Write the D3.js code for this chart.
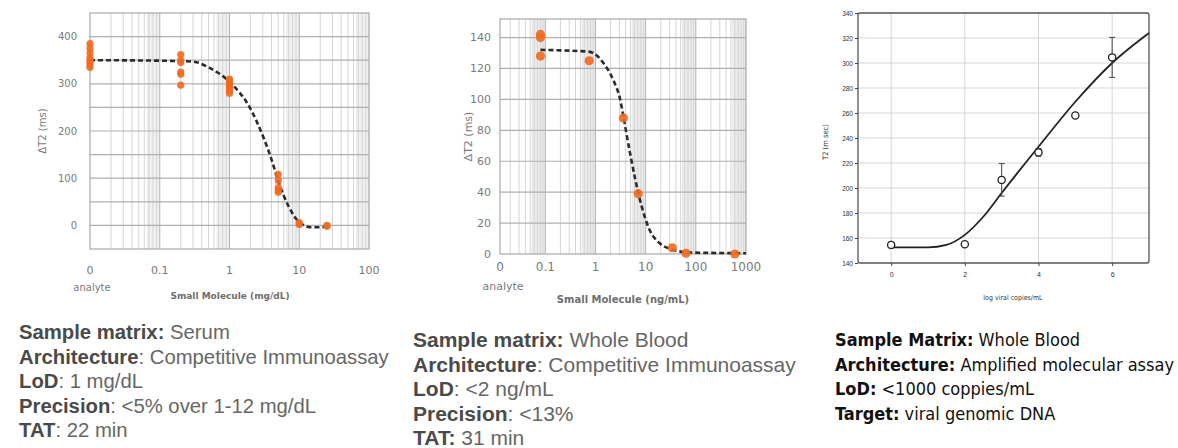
<!DOCTYPE html>
<html lang="en">
<head>
    <meta charset="UTF-8">
    <title>T2 assay curves</title>
    <script src="https://d3js.org/d3.v7.min.js"></script>
    <style>
        body { margin: 0; background: #fff; }
    </style>
</head>
<body>
    <div id="chart"></div>
    <script>
        // panel 1: small molecule in serum (mg/dL), 0 = analyte-free
        const serumConc = [0, 0.2, 1, 5, 10, 25];
        const serumValues = [
            [385, 375, 365, 355, 350, 345, 340, 335],
            [362, 350, 345, 325, 320, 297],
            [310, 305, 300, 295, 290, 285, 280],
            [108, 95, 80, 75, 70],
            [6, 2],
            [0, -2]
        ];
        const serumFitX = [0.01, 0.1, 0.3, 0.5, 1, 2, 3, 4, 5, 7, 10, 15, 20, 25];
        const serumFitY = [350, 349, 347, 335, 304, 247, 190, 140, 94, 41, 7, -4, -4, -2];
        const serumYTicks = [0, 100, 200, 300, 400];
        const serumXTicks = ["0", "0.1", "1", "10", "100"];

        // panel 2: small molecule in whole blood (ng/mL)
        const bloodConc = [0.08, 0.75, 3.6, 7.1, 34, 64, 600];
        const bloodValues = [[142, 140, 128], [125], [88], [39], [4], [0.5], [0]];
        const bloodFitX = [0.08, 0.67, 0.9, 1.4, 2.3, 3.1, 3.6, 4.9, 7.7, 12, 19, 33, 76, 1000];
        const bloodFitY = [132, 131, 130, 124, 112, 100, 89, 65, 35, 15.5, 7, 3, 1, 0.5];
        const bloodYTicks = [0, 20, 40, 60, 80, 100, 120, 140];
        const bloodXTicks = ["0", "0.1", "1", "10", "100", "1000"];

        // panel 3: viral DNA, T2 vs log copies
        const viralLog = [0, 2, 3, 4, 5, 6];
        const viralT2 = [154.5, 155, 206.5, 228.5, 258, 304.5];
        const viralErr = [0, 0, 13, 3, 0, 16];
        const viralFitX = [0, 1, 1.5, 2, 2.5, 3, 4, 5, 6, 7];
        const viralFitY = [152.5, 152.5, 154.5, 162.5, 177, 196, 233, 269, 300, 324];
        const viralYTicks = [140, 160, 180, 200, 220, 240, 260, 280, 300, 320, 340];
        const viralXTicks = [0, 2, 4, 6];

        // captions
        const caption1 = [
            ["Sample matrix:", " Serum"],
            ["Architecture", ": Competitive Immunoassay"],
            ["LoD", ": 1 mg/dL"],
            ["Precision", ": <5% over 1-12 mg/dL"],
            ["TAT", ": 22 min"]
        ];
        const caption2 = [
            ["Sample matrix:", " Whole Blood"],
            ["Architecture", ": Competitive Immunoassay"],
            ["LoD", ": <2 ng/mL"],
            ["Precision", ": <13%"],
            ["TAT:", " 31 min"]
        ];
        const caption3 = [
            ["Sample Matrix:", " Whole Blood"],
            ["Architecture:", " Amplified molecular assay"],
            ["LoD:", " <1000 coppies/mL"],
            ["Target:", " viral genomic DNA"]
        ];

        const orange = "#ef6a1f";

        const svg = d3.select("#chart")
            .append("svg")
                .attr("width", 1178)
                .attr("height", 448)
                .style("font-family", "'DejaVu Sans', sans-serif");

        // log-scale competitive assay panel (1 and 2 share the style)
        function logPanel(o) {
            const g = svg.append("g");
            const x = d3.scaleLog().domain(o.xDomain).range(o.xRange);
            const y = d3.scaleLinear().domain(o.yDomain).range(o.yRange);
            const [x0, x1] = o.xRange, [y0, y1] = o.yRange;

            // shaded bands near each decade
            const kMin = Math.floor(Math.log10(o.xDomain[0])), kMax = Math.ceil(Math.log10(o.xDomain[1]));
            const bands = d3.range(kMin, kMax).map(k => [o.bandFrom * 10 ** k, 10 ** (k + 1)])
                .filter(b => b[0] >= o.xDomain[0] && b[1] <= o.xDomain[1] * 1.0001);
            g.selectAll(".band").data(bands).join("rect")
                .attr("x", d => x(d[0]))
                .attr("width", d => x(d[1]) - x(d[0]))
                .attr("y", y1).attr("height", y0 - y1)
                .attr("fill", o.bandColor);

            // minor log gridlines
            const minor = [];
            d3.range(kMin, kMax + 1).forEach(k => {
                for (let m = 1; m <= 9; m++) {
                    const v = m * 10 ** k;
                    if (v > o.xDomain[0] && v < o.xDomain[1]) minor.push(v);
                }
            });
            g.selectAll(".vgrid").data(minor).join("line")
                .attr("x1", d => x(d)).attr("x2", d => x(d))
                .attr("y1", y1).attr("y2", y0)
                .attr("stroke", d => Math.abs(Math.log10(d) % 1) < 1e-9 ? "#b4b4b4" : "#d6d6d6")
                .attr("stroke-width", 1);

            // horizontal gridlines
            g.selectAll(".hgrid").data(d3.range(o.yDomain[0] + o.yStep, o.yDomain[1], o.yStep)).join("line")
                .attr("x1", x0).attr("x2", x1)
                .attr("y1", d => y(d)).attr("y2", d => y(d))
                .attr("stroke", "#b0b0b0").attr("stroke-width", 1.2);

            g.append("rect")
                .attr("x", x0).attr("y", y1)
                .attr("width", x1 - x0).attr("height", y0 - y1)
                .attr("fill", "none").attr("stroke", "#a8a8a8").attr("stroke-width", 1.2);

            // fitted curve
            const line = d3.line().x(d => x(d[0])).y(d => y(d[1])).curve(d3.curveMonotoneX);
            g.append("path")
                .datum(d3.zip(o.fitX, o.fitY))
                .attr("d", line)
                .attr("fill", "none")
                .attr("stroke", "#2b2b2b")
                .attr("stroke-width", 2.6)
                .attr("stroke-dasharray", "5,3");

            // data points
            const pts = [];
            o.conc.forEach((c, i) => o.values[i].forEach(v => pts.push([c === 0 ? o.xDomain[0] : c, v])));
            g.selectAll(".pt").data(pts).join("circle")
                .attr("cx", d => x(d[0])).attr("cy", d => y(d[1]))
                .attr("r", o.r).attr("fill", orange).attr("opacity", 0.9);

            // axis labels
            g.selectAll(".ylab").data(o.yTicks).join("text")
                .attr("x", x0 - o.yLabGap).attr("y", d => y(d))
                .attr("dy", "0.35em").attr("text-anchor", "end")
                .attr("font-size", o.fs).attr("fill", "#7a7a7a")
                .text(d => d);
            g.selectAll(".xlab").data(o.xTicks).join("text")
                .attr("x", d => d === "0" ? x0 : x(+d)).attr("y", o.xLabY)
                .attr("text-anchor", "middle")
                .attr("font-size", o.fs + 1).attr("fill", "#7a7a7a")
                .text(d => d);
            g.append("text")
                .attr("x", x0 + o.analyteDx).attr("y", o.analyteY)
                .attr("text-anchor", "middle")
                .attr("font-size", o.fs).attr("fill", "#7a7a7a")
                .text("analyte");
            g.append("text")
                .attr("x", o.titleX).attr("y", o.titleY)
                .attr("text-anchor", "middle")
                .attr("font-size", o.fs - 1).attr("font-weight", "bold").attr("fill", "#6e6e6e")
                .text(o.xTitle);
            g.append("text")
                .attr("transform", `translate(${o.yTitleX}, ${(y0 + y1) / 2}) rotate(-90)`)
                .attr("text-anchor", "middle").attr("dy", "0.35em")
                .attr("font-size", o.fs).attr("fill", "#7a7a7a")
                .text("\u0394T2 (ms)");
        }

        logPanel({
            xDomain: [0.01, 100], xRange: [90, 369],
            yDomain: [-50, 450], yRange: [249, 13], yStep: 50,
            conc: serumConc, values: serumValues, fitX: serumFitX, fitY: serumFitY,
            yTicks: serumYTicks, xTicks: serumXTicks,
            bandFrom: 6.5, bandColor: "#f0f0f0",
            r: 3.6, fs: 10, yLabGap: 13, xLabY: 274, analyteDx: 2, analyteY: 291,
            titleX: 230, titleY: 299, xTitle: "Small Molecule (mg/dL)", yTitleX: 42
        });

        logPanel({
            xDomain: [0.0125, 1000], xRange: [500, 746],
            yDomain: [0, 152], yRange: [254, 19], yStep: 20,
            conc: bloodConc, values: bloodValues, fitX: bloodFitX, fitY: bloodFitY,
            yTicks: bloodYTicks, xTicks: bloodXTicks,
            bandFrom: 5.3, bandColor: "#ebebeb",
            r: 4.6, fs: 11, yLabGap: 9, xLabY: 271, analyteDx: 3, analyteY: 290,
            titleX: 623, titleY: 303, xTitle: "Small Molecule (ng/mL)", yTitleX: 468
        });

        // panel 3
        {
            const g = svg.append("g").style("font-family", "'DejaVu Sans Condensed', 'DejaVu Sans', sans-serif");
            const x = d3.scaleLinear().domain([-0.9, 7]).range([858, 1149]);
            const y = d3.scaleLinear().domain([140, 340]).range([263, 13]);

            g.selectAll(".hgrid").data(viralYTicks.slice(1, -1)).join("line")
                .attr("x1", 858).attr("x2", 1149)
                .attr("y1", d => y(d)).attr("y2", d => y(d))
                .attr("stroke", "#d6d6d6").attr("stroke-width", 1);
            g.selectAll(".vgrid").data(viralXTicks).join("line")
                .attr("x1", d => x(d)).attr("x2", d => x(d))
                .attr("y1", 13).attr("y2", 263)
                .attr("stroke", "#d6d6d6").attr("stroke-width", 1);
            g.append("rect")
                .attr("x", 858).attr("y", 13).attr("width", 291).attr("height", 250)
                .attr("rx", 2)
                .attr("fill", "none").attr("stroke", "#555").attr("stroke-width", 1.3);

            const yAxis = d3.axisLeft(y).tickValues(viralYTicks).tickSize(3).tickPadding(2);
            g.append("g").attr("transform", "translate(858,0)").call(yAxis)
                .call(a => a.select(".domain").remove())
                .call(a => a.selectAll("text").attr("font-size", 6.5).attr("fill", "#333"))
                .call(a => a.selectAll("line").attr("stroke", "#444"));
            const xAxis = d3.axisBottom(x).tickValues(viralXTicks).tickSize(3).tickPadding(6);
            g.append("g").attr("transform", "translate(0,263)").call(xAxis)
                .call(a => a.select(".domain").remove())
                .call(a => a.selectAll("text").attr("font-size", 7).attr("fill", "#333"))
                .call(a => a.selectAll("line").attr("stroke", "#444"));

            g.append("text")
                .attr("x", 1013).attr("y", 300)
                .attr("text-anchor", "middle").attr("font-size", 7).attr("fill", "#333")
                .text("log viral copies/mL");
            g.append("text")
                .attr("transform", `translate(825, 142) rotate(-90)`)
                .attr("text-anchor", "middle").attr("dy", "0.35em")
                .attr("font-size", 7.5).attr("fill", "#333")
                .text("T2 (m sec)");

            const line = d3.line().x(d => x(d[0])).y(d => y(d[1])).curve(d3.curveMonotoneX);
            g.append("path")
                .datum(d3.zip(viralFitX, viralFitY))
                .attr("d", line)
                .attr("fill", "none").attr("stroke", "#222").attr("stroke-width", 1.8);

            const pts = d3.zip(viralLog, viralT2, viralErr);
            const eb = g.selectAll(".eb").data(pts.filter(d => d[2] > 0)).join("g");
            eb.append("line")
                .attr("x1", d => x(d[0])).attr("x2", d => x(d[0]))
                .attr("y1", d => y(d[1] - d[2])).attr("y2", d => y(d[1] + d[2]))
                .attr("stroke", "#444").attr("stroke-width", 1);
            [-1, 1].forEach(s => eb.append("line")
                .attr("x1", d => x(d[0]) - 3).attr("x2", d => x(d[0]) + 3)
                .attr("y1", d => y(d[1] + s * d[2])).attr("y2", d => y(d[1] + s * d[2]))
                .attr("stroke", "#444").attr("stroke-width", 1));
            g.selectAll(".pt").data(pts).join("circle")
                .attr("cx", d => x(d[0])).attr("cy", d => y(d[1]))
                .attr("r", 3.6).attr("fill", "#fff")
                .attr("stroke", "#222").attr("stroke-width", 1.3);
        }

        // captions under each chart
        function caption(rows, cx, y0, step, style) {
            const t = svg.append("g");
            rows.forEach((r, i) => {
                const txt = t.append("text")
                    .attr("x", cx).attr("y", y0 + i * step)
                    .attr("font-family", style.family)
                    .attr("font-size", style.size);
                txt.append("tspan").attr("font-weight", "bold").attr("fill", style.bold).text(r[0]);
                txt.append("tspan").attr("fill", style.plain).attr("xml:space", "preserve")
                    .style("white-space", "pre").text(r[1]);
            });
        }
        caption(caption1, 19, 339, 24.5,
            {family: "'Liberation Sans', Arial, sans-serif", size: 20.3, bold: "#4a4a4a", plain: "#666"});
        caption(caption2, 413, 347, 24.5,
            {family: "'Liberation Sans', Arial, sans-serif", size: 21, bold: "#4a4a4a", plain: "#666"});
        caption(caption3, 835, 346, 24.5,
            {family: "'Liberation Sans Narrow', 'DejaVu Sans Condensed', sans-serif", size: 18, bold: "#111", plain: "#111"});
    </script>
</body>
</html>
